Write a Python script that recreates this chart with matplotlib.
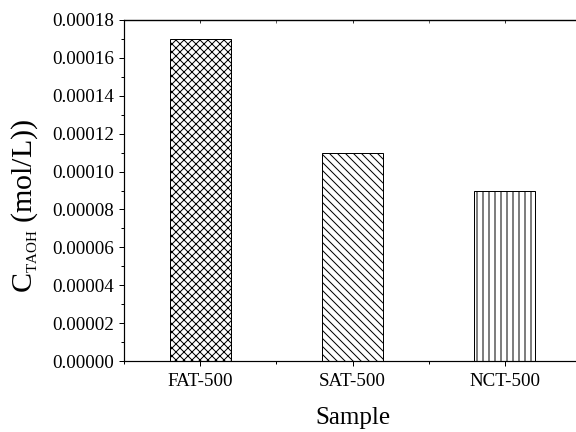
import matplotlib
matplotlib.use('Agg')
import matplotlib.pyplot as plt
import matplotlib._mathtext as mathtext_internal
from matplotlib.ticker import MultipleLocator, FormatStrFormatter

samples = ['FAT-500', 'SAT-500', 'NCT-500']
c_taoh = [0.00017, 0.00011, 0.00009]
hatches = ['xxx', '\\\\\\', '||']

plt.rcParams['font.family'] = 'Liberation Serif'
plt.rcParams['mathtext.fontset'] = 'custom'
plt.rcParams['mathtext.rm'] = 'Liberation Serif'
plt.rcParams['hatch.linewidth'] = 1.0
# smaller subscript, like the Origin label
mathtext_internal.SHRINK_FACTOR = 0.5

fig = plt.figure(figsize=(8, 6), dpi=72)
ax = fig.add_axes([0.215, 0.164, 0.794, 0.79])

x = range(len(samples))
for i in x:
    ax.bar(i, c_taoh[i], width=0.4, color='white', edgecolor='black',
           hatch=hatches[i], linewidth=1.0)

ax.set_xlim(-0.5, 2.5)
ax.set_ylim(0, 0.00018)
ax.set_xticks(list(x))
ax.set_xticklabels(samples)
ax.xaxis.set_minor_locator(MultipleLocator(0.5))
ax.yaxis.set_major_locator(MultipleLocator(0.00002))
ax.yaxis.set_minor_locator(MultipleLocator(0.00001))
ax.yaxis.set_major_formatter(FormatStrFormatter('%.5f'))

ax.tick_params(which='major', length=5, width=1, labelsize=19, direction='out')
ax.tick_params(which='minor', length=3, width=1, direction='out')
ax.tick_params(axis='x', which='minor', labelbottom=False)
ax.tick_params(axis='x', which='major', pad=7)
ax.tick_params(axis='y', which='major', pad=5)

top = ax.secondary_xaxis('top')
top.set_xticks(list(x))
top.xaxis.set_minor_locator(MultipleLocator(0.5))
top.tick_params(which='both', direction='in', length=3, labeltop=False)
top.set_xticklabels([])

for s in ax.spines.values():
    s.set_linewidth(1.2)
top.spines['top'].set_linewidth(1.2)

ax.set_xlabel('Sample', fontsize=25, labelpad=17)
ax.set_ylabel(r'C$_{\mathrm{TAOH}}$ (mol/L))', fontsize=30)
ax.yaxis.set_label_coords(-0.183, 0.455)

fig.savefig('out.png', dpi=72)
